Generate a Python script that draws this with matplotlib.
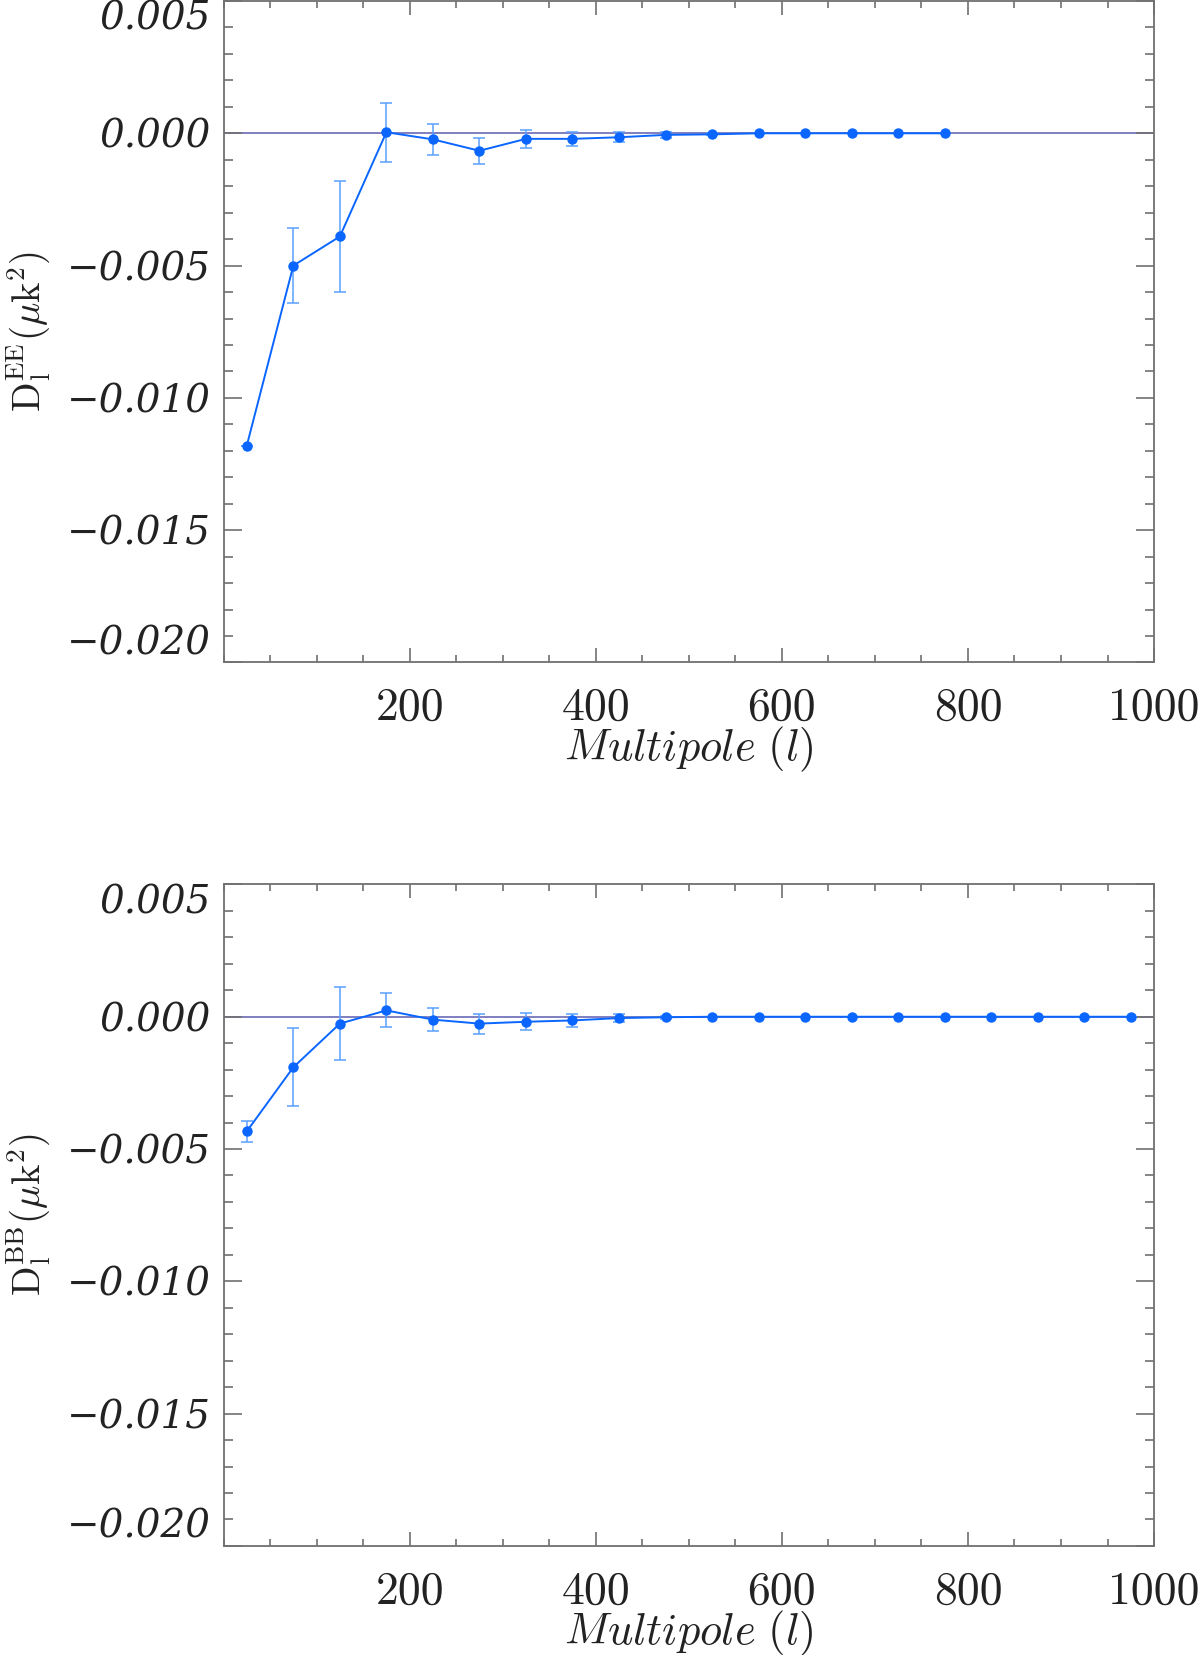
import matplotlib
matplotlib.use("Agg")
import matplotlib.pyplot as plt
from matplotlib.ticker import MultipleLocator

plt.rcParams['mathtext.fontset'] = 'cm'

# multipole bin centres
ell_ee = [25, 75, 125, 175, 225, 275, 325, 375, 425, 475, 525, 575, 625, 675, 725, 775]
ell_bb = [25, 75, 125, 175, 225, 275, 325, 375, 425, 475, 525, 575, 625, 675, 725, 775,
          825, 875, 925, 975]

# D_l^EE and errors
dl_ee = [-0.0118, -0.0050, -0.0039, 0.00004, -0.00023, -0.00066, -0.00021, -0.00021,
         -0.00015, -0.00006, -0.00004, 0.0, 0.0, 0.0, 0.0, 0.0]
err_ee = [0.0, 0.00143, 0.00209, 0.00112, 0.00058, 0.00049, 0.00033, 0.00027,
          0.00019, 0.00010, 0.00004, 0.0, 0.0, 0.0, 0.0, 0.0]

# D_l^BB and errors
dl_bb = [-0.00433, -0.00191, -0.00026, 0.00024, -0.00011, -0.00026, -0.00019, -0.00014,
         -0.00005, -0.00002, 0.0, 0.0, 0.0, 0.0, 0.0, 0.0, 0.0, 0.0, 0.0, 0.0]
err_bb = [0.00040, 0.00147, 0.00138, 0.00064, 0.00044, 0.00038, 0.00032, 0.00024,
          0.00015, 0.00005, 0.0, 0.0, 0.0, 0.0, 0.0, 0.0, 0.0, 0.0, 0.0, 0.0]

y_ticks = [-0.020, -0.015, -0.010, -0.005, 0.000, 0.005]
y_tick_labels = ['\u22120.020', '\u22120.015', '\u22120.010', '\u22120.005', '0.000', '0.005']
x_ticks = [200, 400, 600, 800, 1000]
x_tick_labels = ['200', '400', '600', '800', '1000']

LINE_C = '#0a66ff'
ERR_C = '#5aa0ff'
ZERO_C = '#6a6ab8'
AX_C = '#707070'


def draw_panel(ax, ell, dl, err, ylab):
    ax.axhline(0.0, color=ZERO_C, lw=1.2, zorder=1)
    ax.errorbar(ell, dl, yerr=err, fmt='none', ecolor=ERR_C, elinewidth=1.1,
                capsize=4.5, capthick=1.1, zorder=2)
    ax.plot(ell, dl, '-o', color=LINE_C, lw=1.4, ms=6.5, zorder=3)

    ax.set_xlim(0, 1000)
    ax.set_ylim(-0.020, 0.005)
    ax.set_xticks(x_ticks)
    ax.set_xticklabels(x_tick_labels, fontfamily='cmr10', fontsize=33, color='#222222')
    ax.set_yticks(y_ticks)
    ax.set_yticklabels(y_tick_labels, fontfamily='DejaVu Serif', fontstyle='italic',
                       fontsize=28, color='#222222')
    ax.xaxis.set_minor_locator(MultipleLocator(50))
    ax.yaxis.set_minor_locator(MultipleLocator(0.001))

    ax.tick_params(axis='both', which='both', direction='in', top=True, right=True,
                   color=AX_C, width=1.2)
    ax.tick_params(axis='x', which='major', length=10, pad=18)
    ax.tick_params(axis='x', which='minor', length=5)
    ax.tick_params(axis='y', which='major', length=13, pad=9)
    ax.tick_params(axis='y', which='minor', length=6.5)
    for s in ax.spines.values():
        s.set_color(AX_C)
        s.set_linewidth(1.3)

    # top / bottom labels stay inside the frame
    ylabs = ax.get_yticklabels()
    ylabs[-1].set_verticalalignment('top')
    ylabs[0].set_verticalalignment('bottom')

    ax.set_xlabel(r'$Multipole\ (l)$', fontsize=32, labelpad=-3, color='#222222')
    ax.set_ylabel(ylab, fontsize=28, color='#222222')
    ax.yaxis.set_label_coords(-0.184, 0.5)


fig = plt.figure(figsize=(12, 16.55), dpi=100)
ax1 = fig.add_axes([0.1863, 0.5997, 0.7754, 0.3997])
ax2 = fig.add_axes([0.1863, 0.0659, 0.7754, 0.3997])

draw_panel(ax1, ell_ee, dl_ee, err_ee, r'$\mathrm{D_l^{EE}}(\mu \mathrm{k}^2)$')
draw_panel(ax2, ell_bb, dl_bb, err_bb, r'$\mathrm{D_l^{BB}}(\mu \mathrm{k}^2)$')

fig.savefig('out.png', dpi=100)
